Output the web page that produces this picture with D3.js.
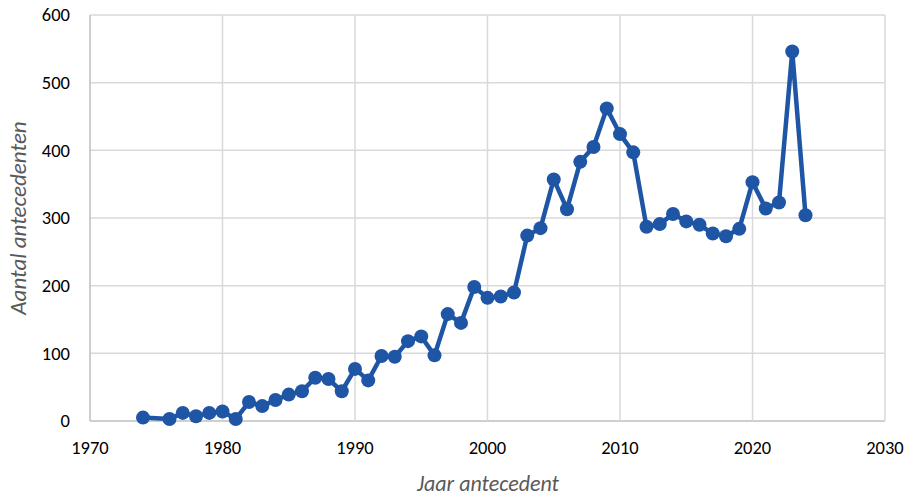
<!DOCTYPE html>
<html><head><meta charset="utf-8">
<script src="https://cdn.jsdelivr.net/npm/d3@7"></script>
<style>body{margin:0;background:#fff}svg{display:block}</style>
</head><body>
<svg id="c" width="913" height="496"></svg>
<script>
const years = [1974,1976,1977,1978,1979,1980,1981,1982,1983,1984,1985,1986,1987,1988,1989,1990,1991,1992,1993,1994,1995,1996,1997,1998,1999,2000,2001,2002,2003,2004,2005,2006,2007,2008,2009,2010,2011,2012,2013,2014,2015,2016,2017,2018,2019,2020,2021,2022,2023,2024];
const counts = [5,3,12,7,12,14,3,28,22,31,39,44,64,62,44,77,60,96,95,118,125,97,158,145,198,182,184,190,274,285,357,313,383,405,462,424,397,287,291,306,295,290,277,273,284,353,314,323,546,304];
const xTicks = [1970,1980,1990,2000,2010,2020,2030];
const yTicks = [0,100,200,300,400,500,600];

const svg = d3.select("#c");
const L=90, R=885, T=15, B=421;
const x = d3.scaleLinear().domain([1970,2030]).range([L,R]);
const y = d3.scaleLinear().domain([0,600]).range([B,T]);
const font = "Carlito, Calibri, Lato, 'Open Sans', sans-serif";

const g = svg.append("g");
g.selectAll(".hg").data(yTicks).join("line")
  .attr("x1",L).attr("x2",R).attr("y1",d=>y(d)).attr("y2",d=>y(d))
  .attr("stroke",d=>d===0?"#bfbfbf":"#d9d9d9").attr("stroke-width",1.5);
g.selectAll(".vg").data(xTicks).join("line")
  .attr("x1",d=>x(d)).attr("x2",d=>x(d)).attr("y1",T).attr("y2",B)
  .attr("stroke",d=>d===1970?"#bfbfbf":"#d9d9d9").attr("stroke-width",1.5);

g.selectAll(".yl").data(yTicks).join("text")
  .attr("x",L-20).attr("y",d=>y(d)).attr("dy","0.35em")
  .attr("text-anchor","end").attr("font-family",font).attr("font-size",18.5).attr("fill","#000")
  .text(d=>d);
g.selectAll(".xl").data(xTicks).join("text")
  .attr("x",d=>x(d)).attr("y",B+27).attr("dy","0.35em")
  .attr("text-anchor","middle").attr("font-family",font).attr("font-size",18.5).attr("fill","#000")
  .text(d=>d);

svg.append("text").attr("x",488).attr("y",484).attr("dy","0.32em")
  .attr("text-anchor","middle").attr("font-family",font).attr("font-style","italic")
  .attr("font-size",22).attr("fill","#595959").text("Jaar antecedent");
svg.append("text").attr("transform",`translate(18,${(T+B)/2}) rotate(-90)`).attr("dy","0.35em")
  .attr("text-anchor","middle").attr("font-family",font).attr("font-style","italic")
  .attr("font-size",23).attr("fill","#595959").text("Aantal antecedenten");

const data = years.map((yr,i)=>({yr, v:counts[i]}));
const color = "#1f55a5";
svg.append("path").datum(data)
  .attr("d", d3.line().x(d=>x(d.yr)).y(d=>y(d.v)))
  .attr("fill","none").attr("stroke",color).attr("stroke-width",4.5).attr("stroke-linejoin","round");
svg.selectAll(".pt").data(data).join("circle")
  .attr("cx",d=>x(d.yr)).attr("cy",d=>y(d.v)).attr("r",7).attr("fill",color);
</script>
</body></html>
